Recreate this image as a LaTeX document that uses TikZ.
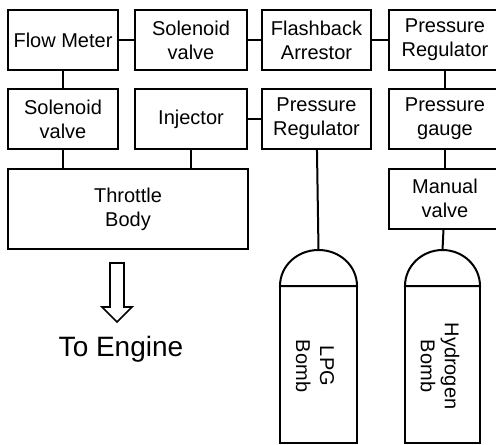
\documentclass[tikz,border=0pt]{standalone}
\usepackage{fontspec}
\setmainfont{Liberation Sans}
\begin{document}
\begin{tikzpicture}[x=1pt,y=-1pt,
  every path/.style={line width=2pt},
  part/.style={draw, line width=2pt, align=center, inner sep=0pt,
    minimum height=60pt, font=\fontsize{20}{24}\selectfont},
  link/.style={line width=2pt},
  label/.style={align=center, inner sep=0pt, font=\fontsize{20}{24}\selectfont}]
\useasboundingbox (0,0) rectangle (496,445);

% top row
\node[part, minimum width=110pt] (fm)  at (63,40)    {Flow Meter};
\node[part, minimum width=112pt] (sv1) at (191,40)   {Solenoid\\valve};
\node[part, minimum width=109pt] (fa)  at (316.5,40) {Flashback\\Arrestor};
\node[part, minimum width=112pt] (pr1) at (445,40)   {Pressure\\Regulator};

% second row
\node[part, minimum width=110pt] (sv2) at (63,119)    {Solenoid\\valve};
\node[part, minimum width=112pt] (inj) at (191,119)   {Injector};
\node[part, minimum width=109pt] (pr2) at (316.5,119) {Pressure\\Regulator};
\node[part, minimum width=112pt] (pg)  at (445,119)   {Pressure\\gauge};

% throttle body and manual valve
\node[part, minimum width=240pt, minimum height=80pt] (tb) at (128,209) {Throttle\\Body};
\node[part, minimum width=112pt] (mv) at (445,198.5) {Manual\\valve};

% connections between parts
\draw[link] (fm) -- (sv1);
\draw[link] (sv1) -- (fa);
\draw[link] (fa) -- (pr1);
\draw[link] (fm) -- (sv2);
\draw[link] (inj) -- (pr2);
\draw[link] (pr1) -- (pg);
\draw[link] (pg) -- (mv);
\draw[link] (sv2.south) -- (sv2.south |- tb.north);
\draw[link] (inj.south) -- (inj.south |- tb.north);

% gas cylinders
\coordinate (lpgtop) at (318.5,250);
\coordinate (h2top)  at (442.5,250);
\draw (280,286) .. controls (280,266) and (297,250) .. (lpgtop)
      .. controls (340,250) and (357,266) .. (357,286) -- cycle;
\draw (280,286) rectangle (357,443);
\draw (405,286) .. controls (405,266) and (422,250) .. (h2top)
      .. controls (463,250) and (480,266) .. (480,286) -- cycle;
\draw (405,286) rectangle (480,443);
\node[label, rotate=-90] (lpg) at (315,366) {LPG\\Bomb};
\node[label, rotate=-90] (h2)  at (440,366) {Hydrogen\\Bomb};
\draw[link] (pr2) -- (lpgtop);
\draw[link] (mv) -- (h2top);

% outlet arrow
\draw[line width=1.7pt, line join=miter]
  (110,263) -- (124,263) -- (124,307) -- (132,307) -- (117,322)
  -- (102,307) -- (110,307) -- cycle;
\node[inner sep=0pt, font=\fontsize{28}{32}\selectfont] (eng) at (121,349) {To Engine};
\end{tikzpicture}
\end{document}
